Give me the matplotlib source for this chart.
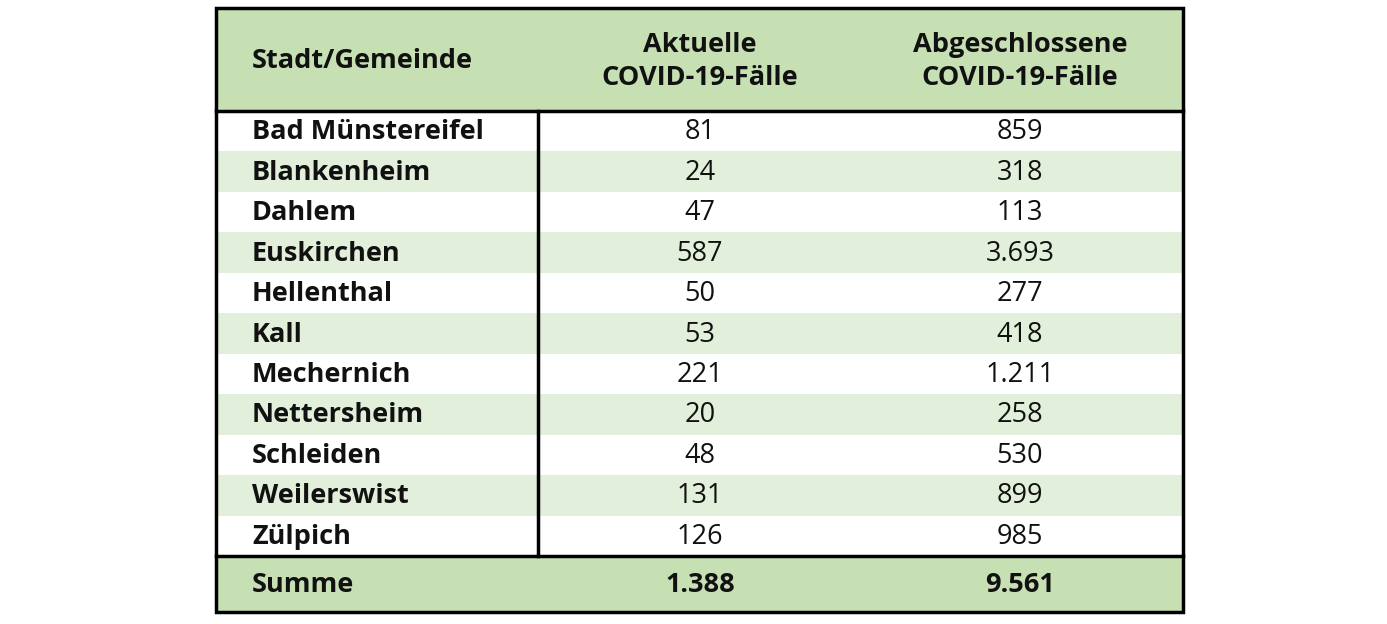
import matplotlib.pyplot as plt
from matplotlib.patches import Rectangle

orte = ["Bad Münstereifel", "Blankenheim", "Dahlem", "Euskirchen", "Hellenthal", "Kall",
        "Mechernich", "Nettersheim", "Schleiden", "Weilerswist", "Zülpich"]
aktuell = ["81", "24", "47", "587", "50", "53", "221", "20", "48", "131", "126"]
abgeschlossen = ["859", "318", "113", "3.693", "277", "418", "1.211", "258", "530", "899", "985"]
kopf = ["Stadt/Gemeinde", "Aktuelle\nCOVID-19-Fälle", "Abgeschlossene\nCOVID-19-Fälle"]
summe = ["Summe", "1.388", "9.561"]

W, H = 1387, 624
fig = plt.figure(figsize=(W / 100, H / 100), dpi=100)
ax = fig.add_axes([0, 0, 1, 1])
ax.set_xlim(0, W)
ax.set_ylim(H, 0)
ax.axis("off")

x0, x1, xdiv = 216, 1183, 538
c1, c2 = 700, 1020
tx = 252
top, head_bot, body_bot, bot = 8, 111, 556, 612
rh = (body_bot - head_bot) / len(orte)
dunkel, hell = "#c6e0b4", "#e2efda"
font = dict(family="Open Sans", fontsize=19.5, color="#111111")

ax.add_patch(Rectangle((x0, top), x1 - x0, head_bot - top, color=dunkel, lw=0))
ax.add_patch(Rectangle((x0, body_bot), x1 - x0, bot - body_bot, color=dunkel, lw=0))
for i, (o, a, b) in enumerate(zip(orte, aktuell, abgeschlossen)):
    y = head_bot + i * rh
    if i % 2 == 1:
        ax.add_patch(Rectangle((x0, y), x1 - x0, rh, color=hell, lw=0))
    yc = y + rh / 2 + 1
    ax.text(tx, yc, o, ha="left", va="center", fontweight="bold", **font)
    ax.text(c1, yc, a, ha="center", va="center", **font)
    ax.text(c2, yc, b, ha="center", va="center", **font)

ym = (top + head_bot) / 2 + 2
ax.text(tx, ym, kopf[0], ha="left", va="center", fontweight="bold", **font)
ax.text(c1, ym, kopf[1], ha="center", va="center", fontweight="bold", linespacing=1.35, **font)
ax.text(c2, ym, kopf[2], ha="center", va="center", fontweight="bold", linespacing=1.35, **font)
ys = (body_bot + bot) / 2 + 1
ax.text(tx, ys, summe[0], ha="left", va="center", fontweight="bold", **font)
ax.text(c1, ys, summe[1], ha="center", va="center", fontweight="bold", **font)
ax.text(c2, ys, summe[2], ha="center", va="center", fontweight="bold", **font)

lw = 2.5
ax.add_patch(Rectangle((x0, top), x1 - x0, bot - top, fill=False, ec="black", lw=lw))
ax.plot([x0, x1], [head_bot, head_bot], color="black", lw=lw)
ax.plot([x0, x1], [body_bot, body_bot], color="black", lw=lw)
ax.plot([xdiv, xdiv], [head_bot, body_bot], color="black", lw=lw)

fig.savefig("out.png", dpi=100)
